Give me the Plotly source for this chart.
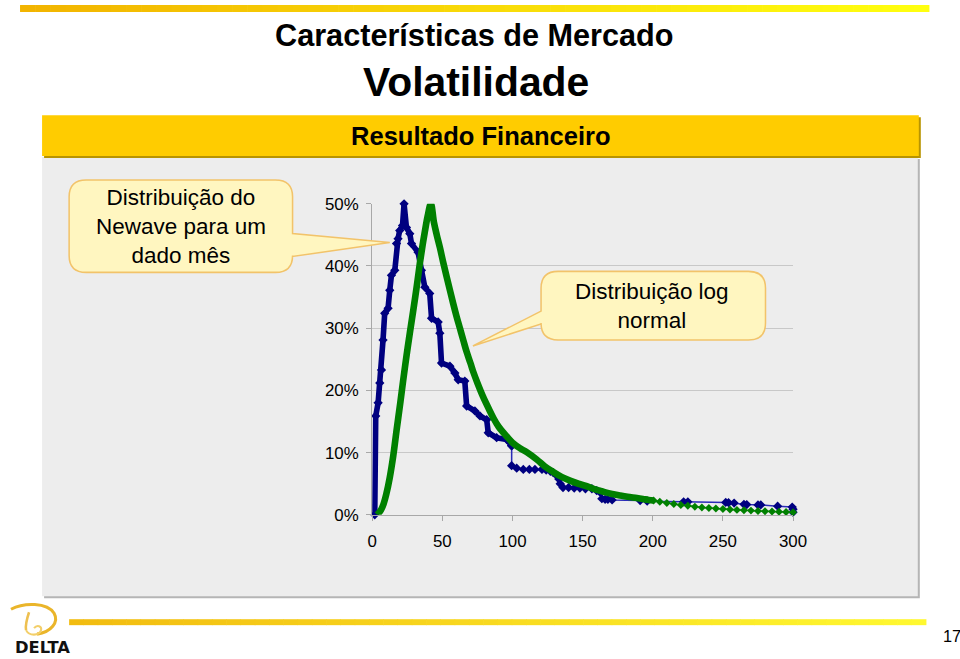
import plotly.graph_objects as go

# ---------------- data ----------------
x_ticks = [0, 50, 100, 150, 200, 250, 300]
y_ticks = [0, 10, 20, 30, 40, 50]           # percent
y_tick_labels = ["0%", "10%", "20%", "30%", "40%", "50%"]

# Newave distribution (dense / thick part)
blue_head_x = [1.8, 2.5, 4.2, 5.4, 6.6, 7.7, 8.9, 11.3, 12.5, 13.7, 16.1, 17.3, 18.4, 19.6,
               21.6, 22.7, 24.4, 26.8, 28.0, 32.7, 35.1, 37.5, 41.0, 42.3, 47.0, 48.2,
               49.4, 55.4, 58.9, 61.3, 66.0, 67.3, 73.2, 76.8, 81.6, 82.7, 88.7, 95.9,
               99.4]
blue_head_y = [0.0, 15.9, 18.0, 21.2, 23.3, 28.1, 32.4, 33.2, 36.1, 38.5, 39.3, 43.6, 44.4,
               45.7, 46.5, 50.0, 46.2, 45.2, 43.6, 42.2, 39.3, 36.6, 35.6, 31.6, 31.0,
               29.2, 24.4, 23.9, 22.8, 21.7, 21.5, 17.5, 16.7, 15.9, 15.3, 13.2, 12.4,
               12.1, 11.1]
# Newave distribution (sparse tail)
blue_tail_x = [99.4, 99.4, 103, 107.7, 112, 116, 121, 124, 127, 129, 131.6, 133, 134, 136,
               140, 144, 148, 152, 156.6, 160, 162.5, 163.7, 166, 168, 171, 191, 196,
               222, 225, 252, 254, 258, 265, 267, 275, 277, 289, 299.4, 300, 300]
blue_tail_y = [11.1, 7.9, 7.5, 7.3, 7.3, 7.3, 7.3, 7.2, 7.0, 6.8, 6.3, 5.75, 5.0, 4.4,
               4.4, 4.3, 4.3, 4.2, 4.2, 3.9, 3.6, 2.6, 2.5, 2.5, 2.4, 2.3, 2.2,
               2.1, 2.1, 2.0, 1.95, 1.9, 1.7, 1.65, 1.6, 1.6, 1.4, 1.25, 0.9, 0.4]

# Log-normal distribution (dense / thick part)
green_head_x = [3.5, 6, 8, 10, 12.5, 15, 17.3, 20, 22, 24.4, 27, 29, 31.6, 34, 36, 37.5,
                39.5, 41.8, 44, 46, 48.2, 50.5, 53, 55.4, 57.7, 60, 62.5, 65, 67.3, 70,
                72, 75, 79, 83, 86.3, 90, 95.9, 100, 105.4, 110, 117.3, 123, 129, 135,
                141, 147, 153, 159, 165, 171, 176.8, 182, 188.7, 193, 197, 200.6]
green_head_y = [0.0, 0.7, 1.7, 3.3, 6.0, 9.5, 13.5, 18.0, 21.5, 25.5, 29.5, 32.5, 36.5,
                40.5, 43.5, 45.5, 48.0, 50.0, 47.0, 45.0, 43.0, 40.7, 38.3, 36.1, 34.0,
                32.0, 30.0, 28.0, 26.2, 24.4, 23.0, 21.2, 19.0, 17.1, 15.6, 14.2, 12.6,
                11.6, 10.7, 10.1, 8.9, 7.8, 6.9, 6.1, 5.5, 5.0, 4.6, 4.1, 3.7, 3.35, 3.1,
                2.9, 2.7, 2.55, 2.4, 2.3]
# Log-normal distribution (sparse tail)
green_tail_x = [200.6, 205, 210, 215, 220, 225, 230, 235, 240, 245, 250, 255, 260, 265,
                270, 275, 280, 285, 290, 295, 300]
green_tail_y = [2.3, 2.1, 1.9, 1.75, 1.6, 1.45, 1.32, 1.2, 1.1, 1.02, 0.94, 0.86, 0.8,
                0.74, 0.68, 0.63, 0.58, 0.53, 0.49, 0.45, 0.42]

# ---------------- helpers ----------------
# The page is photographed slightly reduced and offset (measured on earlier
# runs), so positions given in target-picture pixels are mapped back here.
AX, BX = 0.9786, 6.0
AY, BY = 0.9776, 7.0
W, H = 976, 668
FONT = "Liberation Sans, Arial, Helvetica, sans-serif"


def X(p):
    return ((p - BX) / AX) / W


def Y(p):
    return 1 - ((p - BY) / AY) / H


def S(v):
    return v / AX


def pct(v):
    return [a / 100 for a in v]


def hexmix(c0, c1, t):
    a = [int(c0[i:i + 2], 16) for i in (1, 3, 5)]
    b = [int(c1[i:i + 2], 16) for i in (1, 3, 5)]
    return "#%02x%02x%02x" % tuple(round(a[k] + (b[k] - a[k]) * t) for k in range(3))


shapes = []


def rect(x0, y0, x1, y1, fill, layer="below"):
    shapes.append(dict(type="rect", xref="paper", yref="paper", x0=X(x0), x1=X(x1),
                       y0=Y(y1), y1=Y(y0), fillcolor=fill, line=dict(width=0), layer=layer))


def grad_bar(x0, x1, y0, y1, c0, c1, n=60):
    step = (x1 - x0) / n
    for i in range(n):
        rect(x0 + i * step, y0, x0 + (i + 1) * step + 0.6, y1, hexmix(c0, c1, i / (n - 1)))


def pth(points):
    s = ""
    for cmd, *xy in points:
        s += cmd
        for j in range(0, len(xy), 2):
            s += " %.5f,%.5f " % (X(xy[j]), Y(xy[j + 1]))
    return s


def stroke(points, color, width):
    shapes.append(dict(type="path", xref="paper", yref="paper", layer="above",
                       path=pth(points), line=dict(color=color, width=S(width))))


def callout(x0, y0, x1, y1, r, side, t0, t1, tip):
    if side == "right":
        pts = [("M", x0 + r, y0), ("L", x1 - r, y0), ("Q", x1, y0, x1, y0 + r),
               ("L", x1, t0), ("L", tip[0], tip[1]), ("L", x1, t1),
               ("L", x1, y1 - r), ("Q", x1, y1, x1 - r, y1), ("L", x0 + r, y1),
               ("Q", x0, y1, x0, y1 - r), ("L", x0, y0 + r), ("Q", x0, y0, x0 + r, y0)]
    else:
        pts = [("M", x0 + r, y0), ("L", x1 - r, y0), ("Q", x1, y0, x1, y0 + r),
               ("L", x1, y1 - r), ("Q", x1, y1, x1 - r, y1), ("L", x0 + r, y1),
               ("Q", x0, y1, x0, y1 - r), ("L", x0, t1), ("L", tip[0], tip[1]),
               ("L", x0, t0), ("L", x0, y0 + r), ("Q", x0, y0, x0 + r, y0)]
    shapes.append(dict(type="path", xref="paper", yref="paper", path=pth(pts) + "Z",
                       fillcolor="#fff6c0", line=dict(color="#f2c36a", width=S(1.5)),
                       layer="above"))


# ---------------- decorations ----------------
grad_bar(21, 928, 3, 10, "#f2b400", "#ffff10")          # top bar
grad_bar(70, 925, 621, 627, "#f2bc10", "#fff830")       # bottom bar
rect(45, 158, 919, 600, "#b5b5b5")                     # panel shadow
rect(43, 156, 917, 598, "#ededed")                     # panel
rect(45, 116, 920, 157, "#b89400")                     # banner shadow
rect(43, 114, 918, 155, "#ffcc00")                     # banner

# logo swirl
stroke([("M", 12, 611), ("C", 25, 604, 48, 604, 55, 615),
        ("C", 60, 624, 52, 634, 38, 636)], "#eab52a", 3)
stroke([("M", 30, 614), ("C", 28, 620, 26, 626, 27, 632)], "#eec050", 2.5)
stroke([("M", 27, 632), ("C", 30, 638, 40, 638, 42, 632),
        ("C", 43, 628, 38, 626, 35, 630)], "#f3cf6a", 2)

callout(70, 179, 293, 272, 17, "right", 233, 256, (390, 242))
callout(541, 271, 765, 340, 17, "left", 311, 324, (473, 346))

# ---------------- figure ----------------
fig = go.Figure()
fig.add_trace(go.Scatter(x=blue_head_x, y=pct(blue_head_y), mode="lines+markers",
                         line=dict(color="#000080", width=S(5.5)),
                         marker=dict(symbol="diamond", size=S(7), color="#000080"),
                         cliponaxis=False, hoverinfo="skip"))
fig.add_trace(go.Scatter(x=blue_tail_x, y=pct(blue_tail_y), mode="lines+markers",
                         line=dict(color="#2a2ab8", width=S(1.5)),
                         marker=dict(symbol="diamond", size=S(7), color="#000080"),
                         cliponaxis=False, hoverinfo="skip"))
fig.add_trace(go.Scatter(x=green_head_x, y=pct(green_head_y), mode="lines",
                         line=dict(color="#008000", width=S(6.5), shape="spline"),
                         cliponaxis=False, hoverinfo="skip"))
fig.add_trace(go.Scatter(x=green_tail_x, y=pct(green_tail_y), mode="lines+markers",
                         line=dict(color="#1a8c1a", width=S(1.5)),
                         marker=dict(symbol="diamond", size=S(6), color="#008000"),
                         cliponaxis=False, hoverinfo="skip"))

tickfont = dict(family=FONT, size=S(16.5), color="black")
annotations = [
    dict(text="<b>Características de Mercado</b>", x=X(475), y=Y(33),
         font=dict(family=FONT, size=S(30), color="black")),
    dict(text="<b>Volatilidade</b>", x=X(476), y=Y(80),
         font=dict(family=FONT, size=S(40), color="black")),
    dict(text="<b>Resultado Financeiro</b>", x=X(481), y=Y(135),
         font=dict(family=FONT, size=S(25), color="black")),
    dict(text="Distribuição do<br>Newave para um<br>dado mês", x=X(182), y=Y(226),
         font=dict(family=FONT, size=S(22), color="black")),
    dict(text="Distribuição log<br>normal", x=X(652), y=Y(306),
         font=dict(family=FONT, size=S(22), color="black")),
    dict(text="17", x=X(951), y=Y(638), font=dict(family=FONT, size=S(16), color="black")),
    dict(text="<b>DELTA</b>", x=X(43), y=Y(649),
         font=dict(family="DejaVu Sans, Liberation Sans, sans-serif", size=S(16),
                   color="#111111")),
]
for a in annotations:
    a.update(xref="paper", yref="paper", showarrow=False, xanchor="center",
             yanchor="middle", align="center")

fig.update_layout(
    width=W, height=H, margin=dict(l=0, r=0, t=0, b=0),
    paper_bgcolor="white", plot_bgcolor="rgba(0,0,0,0)", showlegend=False,
    xaxis=dict(domain=[X(372.5), X(792.5)], range=[0, 300], tickmode="array",
               tickvals=x_ticks, ticktext=[str(v) for v in x_ticks], showgrid=False,
               zeroline=False, showline=True, linecolor="#a8a8a8", linewidth=1,
               ticks="outside", ticklen=S(5), tickcolor="#a8a8a8", tickfont=tickfont,
               ticklabelstandoff=6, fixedrange=True),
    yaxis=dict(domain=[Y(516), Y(203)], range=[0, 0.5], tickmode="array",
               tickvals=pct(y_ticks), ticktext=y_tick_labels, showgrid=True,
               gridcolor="#c8c8c8", gridwidth=1, zeroline=False, showline=True,
               linecolor="#a8a8a8", linewidth=1, ticks="outside", ticklen=S(5),
               tickcolor="#a8a8a8", tickfont=tickfont, ticklabelstandoff=4,
               fixedrange=True),
    shapes=shapes, annotations=annotations,
)

fig.write_html("out.html")
